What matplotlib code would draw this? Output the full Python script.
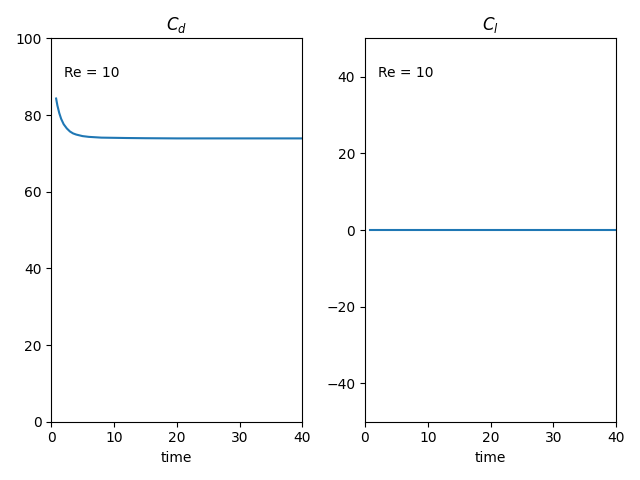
import matplotlib
matplotlib.use("Agg")
import matplotlib.pyplot as plt

time = [0.8, 1.0, 1.3, 1.6, 2.0, 2.5, 3.0, 3.5, 4.0, 5.0, 6.0, 7.0, 8.0,
        10.0, 12.0, 15.0, 20.0, 30.0, 40.0]
cd = [84.3, 82.5, 80.5, 79.0, 77.6, 76.5, 75.7, 75.2, 74.9, 74.5, 74.3,
      74.2, 74.1, 74.05, 74.0, 73.95, 73.9, 73.9, 73.9]
cl = [0.0] * len(time)

fig, (ax1, ax2) = plt.subplots(1, 2, figsize=(6.4, 4.8), dpi=100)

ax1.plot(time, cd)
ax1.set_xlim(0, 40)
ax1.set_ylim(0, 100)
ax1.set_title("$C_d$")
ax1.set_xlabel("time")
ax1.text(2, 90, "Re = 10")

ax2.plot(time, cl)
ax2.set_xlim(0, 40)
ax2.set_ylim(-50, 50)
ax2.set_title("$C_l$")
ax2.set_xlabel("time")
ax2.text(2, 40, "Re = 10")

fig.tight_layout()
fig.savefig("out.png")
